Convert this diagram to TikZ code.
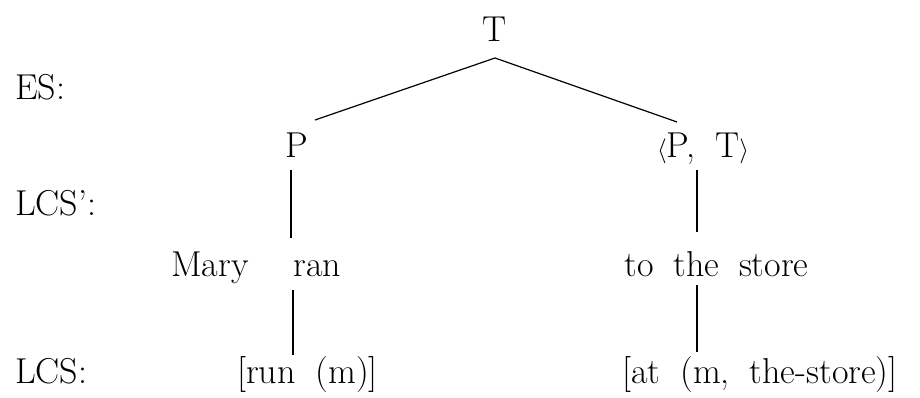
\documentclass[tikz,border=0pt]{standalone}
\usetikzlibrary{calc}
\newcommand{\wsp}{\hspace{0.55em}}
\begin{document}
\begin{tikzpicture}[x=1pt,y=-1pt,
  lbl/.style={inner sep=0pt, anchor=base, font=\fontsize{36}{42}\selectfont},
  lblw/.style={lbl, anchor=base west},
  edge/.style={line width=1.2pt}]
\useasboundingbox (0,0) rectangle (920,398);
% row labels
\node[lblw] (es)   at (15,100) {ES:};
\node[lblw] (lcsp) at (15,215) {LCS':};
\node[lblw] (lcs)  at (15,383) {LCS:};
% tree nodes
\node[lbl] (T)    at (495,42)    {T};
\node[lbl] (P)    at (297,158)   {P};
\node[lbl] (PT)   at (703,158)   {$\langle$P,\wsp T$\rangle$};
\node[lbl] (mary) at (210,276)   {Mary};
\node[lbl] (ran)  at (317.5,276) {ran};
\node[lbl] (store) at (716.5,276) {to\wsp the\wsp store};
\node[lbl] (run)  at (307.5,383) {[run\wsp (m)]};
\node[lbl] (at)   at (760,383)   {[at\wsp (m,\wsp the-store)]};
% connectors
\draw[edge] ($(T.base)+(0,16)$) -- ($(P.base)+(18,-38)$);
\draw[edge] ($(T.base)+(0,16)$) -- ($(PT.base)+(-26,-36)$);
\draw[edge] ($(P.base)+(-6,12)$) -- ($(ran.base)+(-26.5,-38)$);
\draw[edge] ($(ran.base)+(-24.5,14)$) -- ($(run.base)+(-14.5,-28)$);
\draw[edge] ($(PT.base)+(-6,12)$) -- ($(store.base)+(-19.5,-44)$);
\draw[edge] ($(store.base)+(-19.5,9)$) -- ($(at.base)+(-63,-31)$);
\end{tikzpicture}
\end{document}
